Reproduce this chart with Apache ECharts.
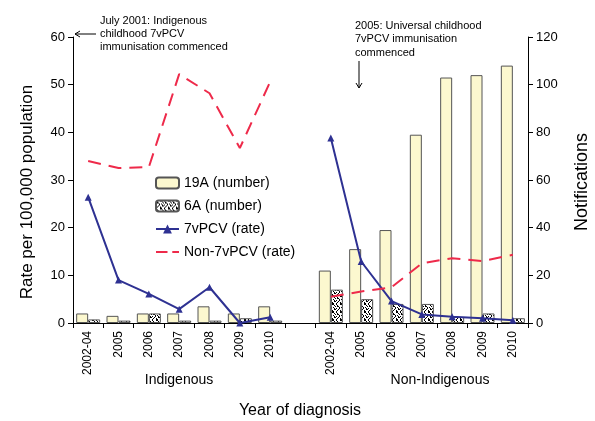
<!DOCTYPE html>
<html><head><meta charset="utf-8">
<script src="https://cdn.jsdelivr.net/npm/echarts@6/dist/echarts.min.js"></script>
<style>html,body{margin:0;padding:0;background:#fff}#c{width:595px;height:421px}</style>
</head><body><div id="c"></div>
<script>
const categories = ['2002-04','2005','2006','2007','2008','2009','2010','','2002-04','2005','2006','2007','2008','2009','2010'];
const num19A = [4,3,4,4,7,4,7,null,22,31,39,79,103,104,108];
const num6A = [1.5,1,4,1,1,2,1,null,14,10,8,8,2.5,4,2];
const rate7v = [26.4,9.0,6.1,2.9,7.5,0,1.2,null,38.8,12.9,4.6,1.8,1.3,1.0,0.6];
const rateNon7v = [34,32.5,32.7,52.2,48.2,36.7,50.6,null,5.5,6.6,7.5,12.5,13.6,13,14.3];
const leftTicks = [0,10,20,30,40,50,60];
const rightTicks = [0,20,40,60,80,100,120];

const FONT = 'Liberation Sans, Arial, sans-serif';
// deterministic speckle texture for 6A bars
const pat = document.createElement('canvas');
pat.width = 8; pat.height = 8;
const pctx = pat.getContext('2d');
pctx.fillStyle = '#fff'; pctx.fillRect(0,0,8,8);
const bits = [
 [1,0,0,0,1,1,0,0],
 [0,1,0,0,0,0,1,0],
 [0,1,1,0,0,0,0,1],
 [0,0,0,1,0,1,0,0],
 [1,0,0,1,0,0,1,0],
 [0,0,1,0,0,0,1,1],
 [0,1,0,0,1,0,0,0],
 [1,0,0,0,1,1,0,0]];
pctx.fillStyle = '#000';
bits.forEach((row,y)=>row.forEach((b,x)=>{ if(b) pctx.fillRect(x,y,1,1); }));

const chart = echarts.init(document.getElementById('c'), null, {renderer:'canvas'});
chart.setOption({
  animation:false,
  textStyle:{fontFamily:FONT},
  grid:{left:73,right:67,top:37,bottom:98,containLabel:false},
  legend:{
    orient:'vertical', left:150, top:171, itemGap:9, itemWidth:23, itemHeight:11,
    textStyle:{fontSize:14,color:'#000',fontFamily:FONT},
    data:['19A (number)','6A (number)','7vPCV (rate)',
      {name:'Non-7vPCV (rate)',icon:'path://M0,0L12,0L12,2L0,2Z M17,0L24,0L24,2L17,2Z'}]
  },
  xAxis:{
    type:'category', data:categories, boundaryGap:true,
    axisLine:{lineStyle:{color:'#000',width:1}},
    axisTick:{show:true,length:5,lineStyle:{color:'#000'},interval:0},
    axisLabel:{rotate:90,fontSize:12,color:'#000',margin:8,interval:0,fontFamily:FONT}
  },
  yAxis:[
    {type:'value',min:0,max:60,interval:10,position:'left',
     axisLine:{show:true,lineStyle:{color:'#000'}},
     axisTick:{show:true,length:5,lineStyle:{color:'#000'}},
     splitLine:{show:false},
     axisLabel:{fontSize:13,color:'#000',margin:8,fontFamily:FONT,
       formatter:v=>leftTicks.includes(v)?String(v):''}},
    {type:'value',min:0,max:120,interval:20,position:'right',
     axisLine:{show:true,lineStyle:{color:'#000'}},
     axisTick:{show:true,length:5,lineStyle:{color:'#000'}},
     splitLine:{show:false},
     axisLabel:{fontSize:13,color:'#000',margin:8,fontFamily:FONT,
       formatter:v=>rightTicks.includes(v)?String(v):''}}
  ],
  series:[
    {name:'19A (number)',type:'bar',yAxisIndex:1,data:num19A,barWidth:12,barGap:'0%',
     itemStyle:{color:'#fcf8cf',borderColor:'#555',borderWidth:1}},
    {name:'6A (number)',type:'bar',yAxisIndex:1,data:num6A,barWidth:12,barGap:'0%',
     itemStyle:{color:{image:pat,repeat:'repeat'},borderColor:'#555',borderWidth:1}},
    {name:'7vPCV (rate)',type:'line',yAxisIndex:0,data:rate7v,connectNulls:false,
     symbol:'triangle',symbolSize:7,showSymbol:true,
     lineStyle:{color:'#2e3192',width:2},itemStyle:{color:'#2e3192'}},
    {name:'Non-7vPCV (rate)',type:'line',yAxisIndex:0,data:rateNon7v,connectNulls:false,
     symbol:'none',
     lineStyle:{color:'#ee2a4a',width:2,type:[13,8]},itemStyle:{color:'#ee2a4a'}}
  ],
  graphic:[
    {type:'text',x:27,y:192,rotation:Math.PI/2,
     style:{text:'Rate per 100,000 population',fontSize:17,fontFamily:FONT,fill:'#000',align:'center',verticalAlign:'middle'}},
    {type:'text',x:582,y:182,rotation:Math.PI/2,
     style:{text:'Notifications',fontSize:18,fontFamily:FONT,fill:'#000',align:'center',verticalAlign:'middle'}},
    {type:'text',x:300,y:411,
     style:{text:'Year of diagnosis',fontSize:16,fontFamily:FONT,fill:'#000',align:'center',verticalAlign:'middle'}},
    {type:'text',x:179,y:380,
     style:{text:'Indigenous',fontSize:14,fontFamily:FONT,fill:'#000',align:'center',verticalAlign:'middle'}},
    {type:'text',x:440,y:380,
     style:{text:'Non-Indigenous',fontSize:14,fontFamily:FONT,fill:'#000',align:'center',verticalAlign:'middle'}},
    {type:'text',x:100,y:14,
     style:{text:'July 2001: Indigenous\nchildhood 7vPCV\nimmunisation commenced',fontSize:11,lineHeight:13,fontFamily:FONT,fill:'#000',align:'left',verticalAlign:'top'}},
    {type:'line',shape:{x1:75,y1:34,x2:96,y2:34},style:{stroke:'#000',lineWidth:1}},
    {type:'polyline',shape:{points:[[80,31],[75,34],[80,37]]},style:{stroke:'#000',lineWidth:1,fill:null}},
    {type:'text',x:355,y:19,
     style:{text:'2005: Universal childhood\n7vPCV immunisation\ncommenced',fontSize:11,lineHeight:13.5,fontFamily:FONT,fill:'#000',align:'left',verticalAlign:'top'}},
    {type:'line',shape:{x1:359,y1:61,x2:359,y2:88},style:{stroke:'#000',lineWidth:1}},
    {type:'polyline',shape:{points:[[356,83],[359,88],[362,83]]},style:{stroke:'#000',lineWidth:1,fill:null}}
  ]
});
</script></body></html>
